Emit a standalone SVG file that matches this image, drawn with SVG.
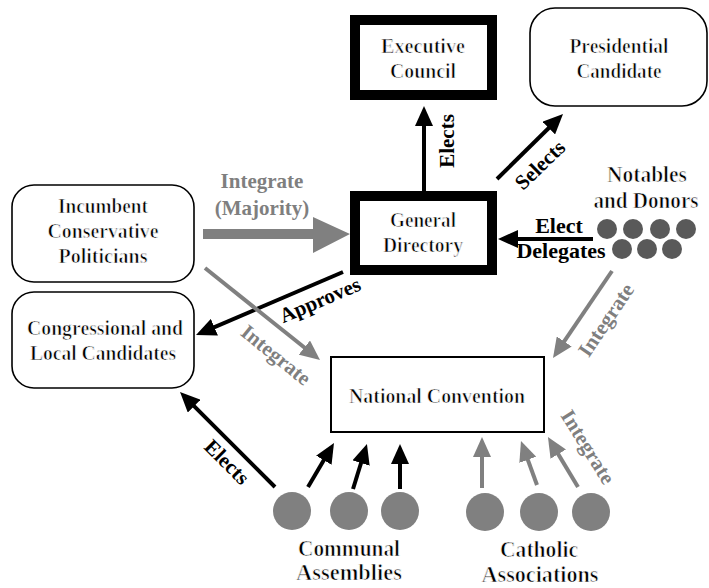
<svg xmlns="http://www.w3.org/2000/svg" width="709" height="588" viewBox="0 0 709 588">
  <defs>
    <style>
      /* body text: serif face, lightened with a thin white outline */
      .t, .tl { font-family: 'Liberation Serif', 'Times New Roman', serif; font-weight: bold; fill: #000; stroke: #fff; stroke-width: 0.72; text-anchor: middle; }
      .t { font-size: 21px; }
      .tl { font-size: 23px; }
      .b { font-family: 'Liberation Serif', 'Times New Roman', serif; font-size: 21px; font-weight: bold; fill: #000; text-anchor: middle; }
      .g { font-family: 'Liberation Serif', 'Times New Roman', serif; font-size: 21px; font-weight: bold; fill: #7f7f7f; text-anchor: middle; }
      .heavy { fill: #fff; stroke: #000; stroke-width: 10; }
      .round { fill: #fff; stroke: #000; stroke-width: 1.6; }
      .plain { fill: #fff; stroke: #000; stroke-width: 2; }
      .blk { stroke: #000; stroke-width: 4; fill: none; marker-end: url(#headK); }
      .gry { stroke: #808080; stroke-width: 4; fill: none; marker-end: url(#headG); }
      .dotA { fill: #808080; }
      .dotN { fill: #595959; }
    </style>
    <marker id="headK" markerUnits="userSpaceOnUse" markerWidth="20" markerHeight="18" refX="10" refY="9" orient="auto">
      <path d="M0,0 L20,9 L0,18 z" fill="#000"/>
    </marker>
    <marker id="headG" markerUnits="userSpaceOnUse" markerWidth="20" markerHeight="18" refX="10" refY="9" orient="auto">
      <path d="M0,0 L20,9 L0,18 z" fill="#808080"/>
    </marker>
  </defs>

  <rect width="709" height="588" fill="#fff"/>

  <!-- nodes -->
  <g id="executive-council">
    <rect class="heavy" x="355" y="20" width="137" height="75"/>
    <text class="t" x="423" y="53" textLength="84" lengthAdjust="spacingAndGlyphs">Executive</text>
    <text class="t" x="423" y="78" textLength="66" lengthAdjust="spacingAndGlyphs">Council</text>
  </g>

  <g id="presidential-candidate">
    <rect class="round" x="530" y="8" width="177" height="98" rx="25"/>
    <text class="t" x="619" y="53" textLength="99" lengthAdjust="spacingAndGlyphs">Presidential</text>
    <text class="t" x="619" y="78" textLength="85" lengthAdjust="spacingAndGlyphs">Candidate</text>
  </g>

  <g id="general-directory">
    <rect class="heavy" x="355" y="196" width="137" height="74"/>
    <text class="t" x="423" y="227" textLength="66" lengthAdjust="spacingAndGlyphs">General</text>
    <text class="t" x="423" y="252" textLength="80" lengthAdjust="spacingAndGlyphs">Directory</text>
  </g>

  <g id="incumbent-politicians">
    <rect class="round" x="12" y="185" width="182" height="97" rx="22"/>
    <text class="t" x="103" y="213" textLength="90" lengthAdjust="spacingAndGlyphs">Incumbent</text>
    <text class="t" x="103" y="238" textLength="111" lengthAdjust="spacingAndGlyphs">Conservative</text>
    <text class="t" x="103" y="263" textLength="89" lengthAdjust="spacingAndGlyphs">Politicians</text>
  </g>

  <g id="congressional-local-candidates">
    <rect class="round" x="12" y="292" width="182" height="96" rx="22"/>
    <text class="t" x="105" y="335" textLength="156" lengthAdjust="spacingAndGlyphs">Congressional and</text>
    <text class="t" x="103" y="360" textLength="146" lengthAdjust="spacingAndGlyphs">Local Candidates</text>
  </g>

  <g id="national-convention">
    <rect class="plain" x="331" y="357" width="213" height="75"/>
    <text class="t" x="437" y="403" textLength="176" lengthAdjust="spacingAndGlyphs">National Convention</text>
  </g>

  <g id="notables-donors">
    <text class="tl" x="647" y="182" textLength="80" lengthAdjust="spacingAndGlyphs">Notables</text>
    <text class="tl" x="646" y="208" textLength="105" lengthAdjust="spacingAndGlyphs">and Donors</text>
    <circle class="dotN" cx="607" cy="229" r="10"/>
    <circle class="dotN" cx="633" cy="229" r="10"/>
    <circle class="dotN" cx="660" cy="229" r="10"/>
    <circle class="dotN" cx="686" cy="229" r="10"/>
    <circle class="dotN" cx="622" cy="249" r="10"/>
    <circle class="dotN" cx="647" cy="249" r="10"/>
    <circle class="dotN" cx="672" cy="249" r="10"/>
  </g>

  <g id="communal-assemblies">
    <circle class="dotA" cx="292" cy="511" r="19"/>
    <circle class="dotA" cx="349" cy="511" r="19"/>
    <circle class="dotA" cx="400" cy="511" r="19"/>
    <text class="tl" x="349" y="556" textLength="102" lengthAdjust="spacingAndGlyphs">Communal</text>
    <text class="tl" x="349" y="580" textLength="106" lengthAdjust="spacingAndGlyphs">Assemblies</text>
  </g>

  <g id="catholic-associations">
    <circle class="dotA" cx="485" cy="512" r="19"/>
    <circle class="dotA" cx="539" cy="512" r="19"/>
    <circle class="dotA" cx="591" cy="512" r="19"/>
    <text class="tl" x="539" y="557" textLength="78" lengthAdjust="spacingAndGlyphs">Catholic</text>
    <text class="tl" x="540" y="582" textLength="117" lengthAdjust="spacingAndGlyphs">Associations</text>
  </g>

  <!-- connectors -->
  <g id="connectors">
    <!-- General Directory elects Executive Council -->
    <line class="blk" x1="424" y1="191" x2="424" y2="116"/>
    <text class="b" transform="translate(447,141) rotate(-90)" y="7">Elects</text>

    <!-- General Directory selects Presidential Candidate -->
    <line class="blk" x1="497" y1="179" x2="555.9" y2="121"/>
    <text class="b" transform="translate(540,165) rotate(-44)" y="7">Selects</text>

    <!-- Notables and Donors elect delegates -->
    <line class="blk" x1="593" y1="239" x2="508" y2="239"/>
    <text class="b" x="559" y="233" style="font-size:22px">Elect</text>
    <text class="b" x="561" y="258" style="font-size:22px">Delegates</text>

    <!-- incumbents integrate (majority) -->
    <polygon points="203,229 313,229 313,217 350,234 313,253 313,239 203,239" fill="#808080"/>
    <text class="g" x="262" y="188">Integrate</text>
    <text class="g" x="262" y="215">(Majority)</text>

    <!-- General Directory approves candidates -->
    <line class="blk" x1="343" y1="272" x2="205.2" y2="331.1"/>
    <text class="b" transform="translate(320,300) rotate(-23)" y="7">Approves</text>

    <!-- incumbents integrate the convention -->
    <line class="gry" x1="205" y1="268" x2="312.2" y2="353.8"/>
    <text class="g" transform="translate(276,355) rotate(39)" y="7">Integrate</text>

    <!-- notables integrate the convention -->
    <line class="gry" x1="612" y1="271" x2="558.6" y2="349.7"/>
    <text class="g" transform="translate(606,320) rotate(-56)" y="7">Integrate</text>

    <!-- communal assemblies elect candidates -->
    <line class="blk" x1="275" y1="487" x2="187.1" y2="399.1"/>
    <text class="b" transform="translate(227,462) rotate(45)" y="7">Elects</text>

    <!-- communal assemblies to the convention -->
    <line class="blk" x1="308" y1="487" x2="328.9" y2="451.6"/>
    <line class="blk" x1="353" y1="489" x2="364" y2="453.5"/>
    <line class="blk" x1="400" y1="489" x2="400" y2="454"/>

    <!-- catholic associations integrate the convention -->
    <line class="gry" x1="482" y1="488" x2="482" y2="447"/>
    <line class="gry" x1="537" y1="485" x2="524.4" y2="450.4"/>
    <line class="gry" x1="578" y1="487" x2="553.1" y2="445.6"/>
    <text class="g" transform="translate(588,447) rotate(58)" y="7">Integrate</text>
  </g>
</svg>
